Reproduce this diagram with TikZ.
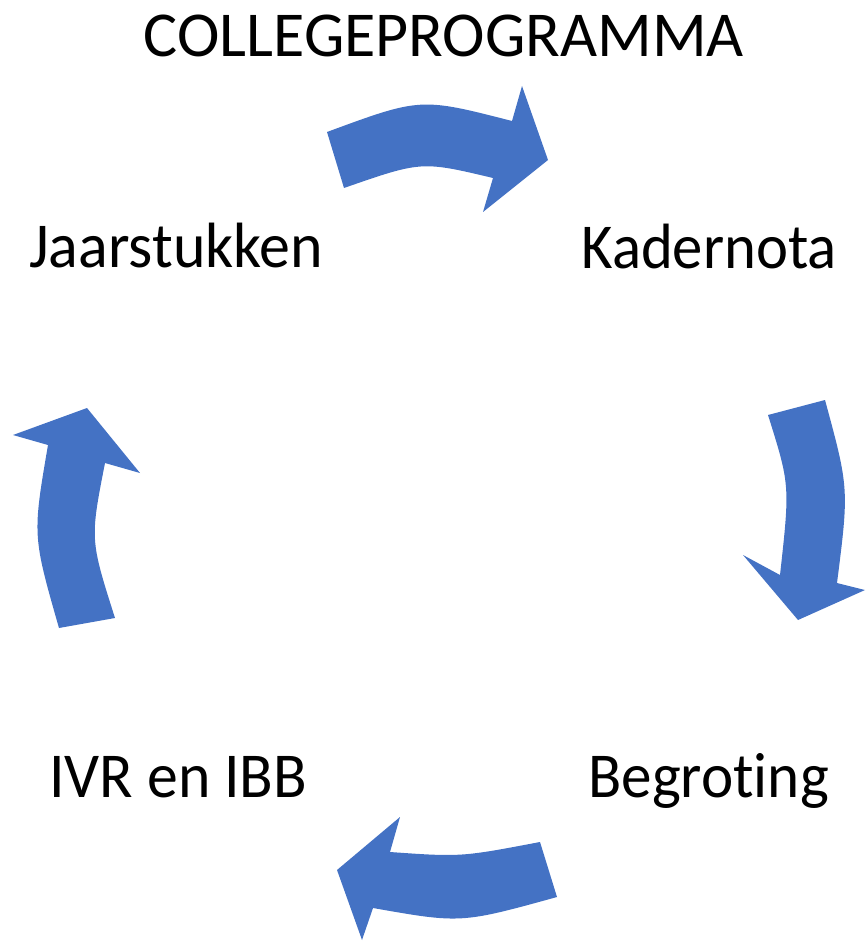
\documentclass[tikz,border=0pt]{standalone}
\usepackage{fontspec}
\setmainfont{Carlito}[Ligatures=NoCommon]
\definecolor{arrowblue}{HTML}{4472C4}
\tikzset{
  blockarrow/.style={fill=arrowblue, draw=none},
  label/.style={inner sep=0pt, font=\fontsize{64}{70}\selectfont, text=black}
}
\begin{document}
\begin{tikzpicture}[x=1pt,y=-1pt]
\useasboundingbox (0,0) rectangle (865,941);
% labels
\node[label, anchor=base] (title) at (444,57) {COLLEGEPROGRAMMA};
\node[label, anchor=base west] (jaar) at (29,267) {\scalebox{0.967}[1]{Jaarstukken}};
\node[label, anchor=base east] (kader) at (837,268) {\scalebox{0.948}[1]{Kadernota}};
\node[label, anchor=base west] (ivr) at (49,797) {\scalebox{0.965}[1]{IVR en IBB}};
\node[label, anchor=base east] (begr) at (829,797) {\scalebox{0.955}[1]{Begroting}};
% top arrow (Jaarstukken -> Kadernota)
\fill[blockarrow] (327,132) .. controls (420.5,97.5) .. (512,121) -- (522,86) -- (548,160)
  -- (483,212) -- (493,178) .. controls (421.5,161) .. (344,188) -- cycle;
% right arrow (Kadernota -> Begroting)
\fill[blockarrow] (768,415) -- (825,400) .. controls (849,488.5) .. (837,583) -- (865,590)
  -- (798,620) -- (743,555) -- (780,575) .. controls (790,485) .. cycle;
% bottom arrow (Begroting -> IVR en IBB)
\fill[blockarrow] (540,842) -- (557,897) .. controls (461,923.5) .. (373,908) -- (362,940)
  -- (337,870) -- (400,817) -- (390,852) .. controls (461,857) .. cycle;
% left arrow (IVR en IBB -> Jaarstukken)
\fill[blockarrow] (59,628) -- (115,618) .. controls (90,539.5) .. (105,463) -- (140,473)
  -- (87,408) -- (13,435) -- (48,445) .. controls (32.5,535.5) .. cycle;
\end{tikzpicture}
\end{document}
